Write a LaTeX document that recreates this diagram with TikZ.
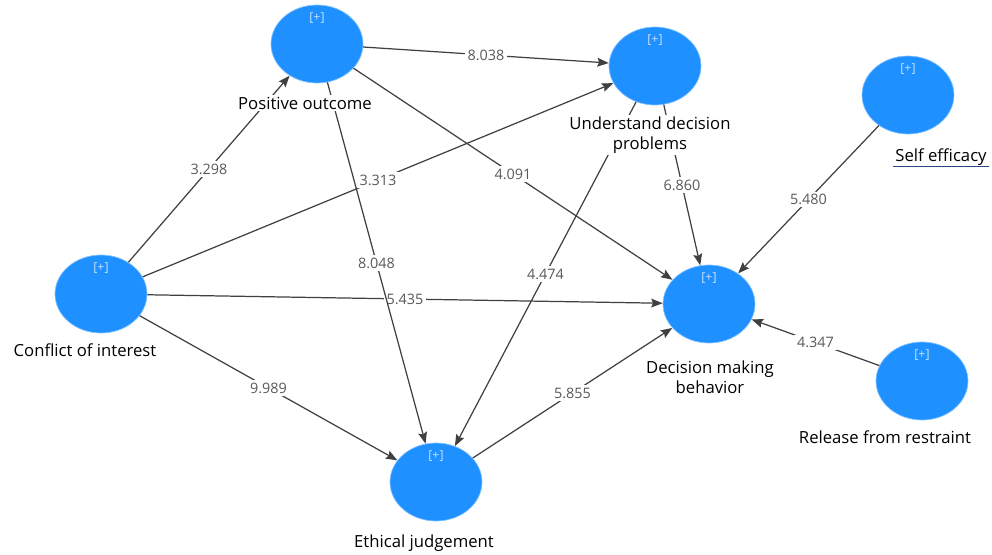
\documentclass[tikz,border=0pt]{standalone}
\usepackage{fontspec}
\setmainfont{Open Sans}
\usetikzlibrary{shapes.geometric,arrows.meta}
\definecolor{lvblue}{RGB}{30,144,255}
\definecolor{ulblue}{RGB}{40,70,130}

\begin{document}
\begin{tikzpicture}[x=0.02cm,y=-0.02cm,
    lv/.style={ellipse,fill=lvblue,draw=lvblue!55,line width=0.4pt,minimum width=1.84cm,minimum height=1.56cm,inner sep=0pt},
    plus/.style={font=\fontsize{7}{8}\selectfont,text=white!75!lvblue,inner sep=0pt},
    lvname/.style={font=\fontsize{9.5}{11.3}\selectfont,fill=white,inner sep=1pt,align=center},
    link/.style={draw=black!75,line width=0.7pt,-{Stealth[length=6.5pt,width=5pt,inset=1pt]}},
    coef/.style={midway,fill=white,font=\fontsize{8.2}{9}\selectfont,text=black!65,inner sep=1.5pt}]
    \useasboundingbox (0,0) rectangle (992,555);
    % latent variables
    \node[lv] (po) at (317,44) {};
    \node[lv] (ud) at (655,66) {};
    \node[lv] (se) at (908,95) {};
    \node[lv] (ci) at (101,294) {};
    \node[lv] (dm) at (709,304) {};
    \node[lv] (rr) at (922,381) {};
    \node[lv] (ej) at (436,482) {};
    \foreach \v in {po,ud,se,ci,dm,rr,ej}
        \node[plus] (\v+) at ([yshift=-7.4pt]\v.north) {[+]};
    % path coefficients
    \draw[link] (ci) -- (po) node[coef] {3.298};
    \draw[link] (ci) -- (ud) node[coef] {3.313};
    \draw[link] (ci) -- (dm) node[coef] {5.435};
    \draw[link] (ci) -- (ej) node[coef] {9.989};
    \draw[link] (po) -- (ud) node[coef] {8.038};
    \draw[link] (po) -- (dm) node[coef] {4.091};
    \draw[link] (po) -- (ej) node[coef] {8.048};
    \draw[link] (ud) -- (dm) node[coef] {6.860};
    \draw[link] (ud) -- (ej) node[coef] {4.474};
    \draw[link] (ej) -- (dm) node[coef] {5.855};
    \draw[link] (se) -- (dm) node[coef] {5.480};
    \draw[link] (rr) -- (dm) node[coef] {4.347};
    % names
    \node[lvname] (lpo) at (305,103) {Positive outcome};
    \node[lvname] (lud) at (650,135) {Understand decision\\problems};
    \node[lvname] (lse) at (941,157) {Self efficacy};
    \draw[ulblue,line width=0.8pt] ([yshift=-2.8pt]lse.base west) -- ([yshift=-2.8pt]lse.base east);
    \node[lvname] (lci) at (85,350) {Conflict of interest};
    \node[lvname] (ldm) at (710,377) {Decision making\\behavior};
    \node[lvname] (lrr) at (885,437) {Release from restraint};
    \node[lvname] (lej) at (424,543) {Ethical judgement};
\end{tikzpicture}
\end{document}
